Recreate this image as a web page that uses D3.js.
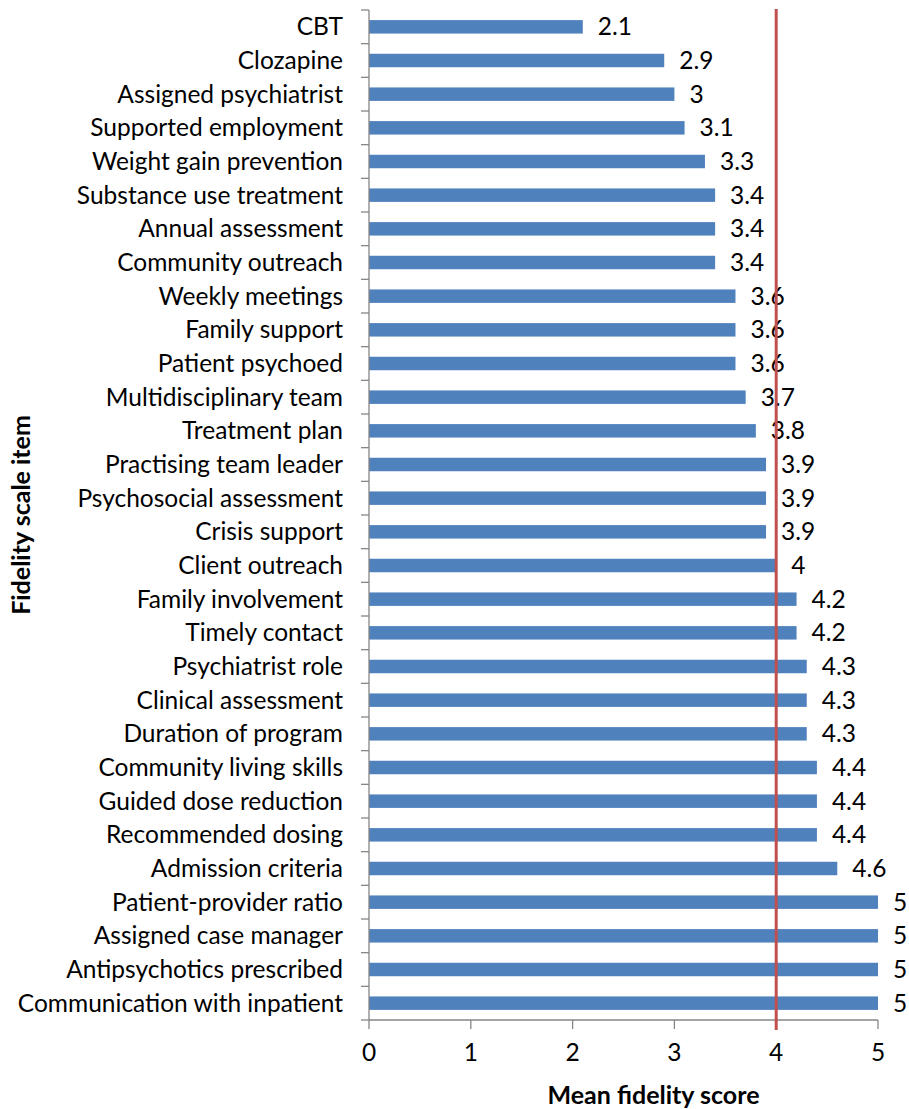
<!DOCTYPE html>
<html>
<head>
<meta charset="utf-8">
<script src="https://cdn.jsdelivr.net/npm/d3@7"></script>
<style>
  html, body { margin: 0; padding: 0; background: #fff; }
  svg { display: block; font-family: Lato, "Open Sans", sans-serif; }
  .cat { font-size: 24.5px; fill: #000; }
  .val { font-size: 24.5px; fill: #000; }
  .tick-lbl { font-size: 24.5px; fill: #000; }
  .axis-title { font-size: 25px; font-weight: bold; fill: #000; }
</style>
</head>
<body>
<div id="chart"></div>
<script>
// Items, top to bottom, and their mean fidelity scores.
const items = [
  "CBT", "Clozapine", "Assigned psychiatrist", "Supported employment",
  "Weight gain prevention", "Substance use treatment", "Annual assessment",
  "Community outreach", "Weekly meetings", "Family support", "Patient psychoed",
  "Multidisciplinary team", "Treatment plan", "Practising team leader",
  "Psychosocial assessment", "Crisis support", "Client outreach",
  "Family involvement", "Timely contact", "Psychiatrist role",
  "Clinical assessment", "Duration of program", "Community living skills",
  "Guided dose reduction", "Recommended dosing", "Admission criteria",
  "Patient-provider ratio", "Assigned case manager", "Antipsychotics prescribed",
  "Communication with inpatient"
];
const scores = [
  2.1, 2.9, 3, 3.1, 3.3, 3.4, 3.4, 3.4, 3.6, 3.6, 3.6, 3.7, 3.8, 3.9, 3.9,
  3.9, 4, 4.2, 4.2, 4.3, 4.3, 4.3, 4.4, 4.4, 4.4, 4.6, 5, 5, 5, 5
];
const xTicks = [0, 1, 2, 3, 4, 5];
const refLine = 4;

const width = 909, height = 1109;
const m = { top: 10, right: 31, bottom: 89, left: 369 };
const iW = width - m.left - m.right, iH = height - m.top - m.bottom;

const x = d3.scaleLinear([0, 5], [0, iW]);
const y = d3.scaleBand(items, [0, iH]).paddingInner(0.6).paddingOuter(0.3);
const band = d3.scaleBand(items, [0, iH]); // category slots for the tick marks

const svg = d3.select("#chart").append("svg")
  .attr("width", width).attr("height", height);
const g = svg.append("g").attr("transform", `translate(${m.left},${m.top})`);

const axisColor = "#868686";

// Bars
g.selectAll("rect.bar").data(items).join("rect")
  .attr("class", "bar")
  .attr("x", 0)
  .attr("y", (d) => y(d))
  .attr("width", (d, i) => x(scores[i]))
  .attr("height", y.bandwidth())
  .attr("fill", "#4F81BD");

// Value labels
g.selectAll("text.val").data(items).join("text")
  .attr("class", "val")
  .attr("x", (d, i) => x(scores[i]) + 15)
  .attr("y", (d) => y(d) + y.bandwidth() / 2)
  .attr("dy", "0.35em")
  .text((d, i) => scores[i]);

// Category axis: vertical line with ticks between slots
g.append("line")
  .attr("x1", 0).attr("x2", 0).attr("y1", 0).attr("y2", iH)
  .attr("stroke", axisColor).attr("stroke-width", 1.3);
const bounds = items.map((d) => band(d)).concat([iH]);
g.selectAll("line.ytick").data(bounds).join("line")
  .attr("class", "ytick")
  .attr("x1", -8).attr("x2", 0)
  .attr("y1", (d) => d).attr("y2", (d) => d)
  .attr("stroke", axisColor).attr("stroke-width", 1.3);
g.selectAll("text.cat").data(items).join("text")
  .attr("class", "cat")
  .attr("x", -26)
  .attr("y", (d) => band(d) + band.bandwidth() / 2)
  .attr("dy", "0.35em")
  .attr("text-anchor", "end")
  .text((d) => d);

// Value axis at the bottom
g.append("line")
  .attr("x1", 0).attr("x2", iW).attr("y1", iH).attr("y2", iH)
  .attr("stroke", axisColor).attr("stroke-width", 1.3);
g.selectAll("line.xtick").data(xTicks).join("line")
  .attr("class", "xtick")
  .attr("x1", (d) => x(d)).attr("x2", (d) => x(d))
  .attr("y1", iH).attr("y2", iH + 9)
  .attr("stroke", axisColor).attr("stroke-width", 1.3);
g.selectAll("text.tick-lbl").data(xTicks).join("text")
  .attr("class", "tick-lbl")
  .attr("x", (d) => x(d))
  .attr("y", iH + 32)
  .attr("dy", "0.35em")
  .attr("text-anchor", "middle")
  .text((d) => d);

// Reference line at 4
g.append("line")
  .attr("x1", x(refLine)).attr("x2", x(refLine))
  .attr("y1", -1).attr("y2", iH + 10)
  .attr("stroke", "#C0504D").attr("stroke-width", 3);

// Axis titles
g.append("text").attr("class", "axis-title")
  .attr("x", (x(0) + x(5)) / 2 + 30).attr("y", iH + 75)
  .attr("dy", "0.35em").attr("text-anchor", "middle")
  .text("Mean fidelity score");
svg.append("text").attr("class", "axis-title")
  .attr("text-anchor", "middle")
  .attr("transform", `translate(21,${m.top + iH / 2}) rotate(-90)`)
  .attr("dy", "0.35em")
  .text("Fidelity scale item");
</script>
</body>
</html>
